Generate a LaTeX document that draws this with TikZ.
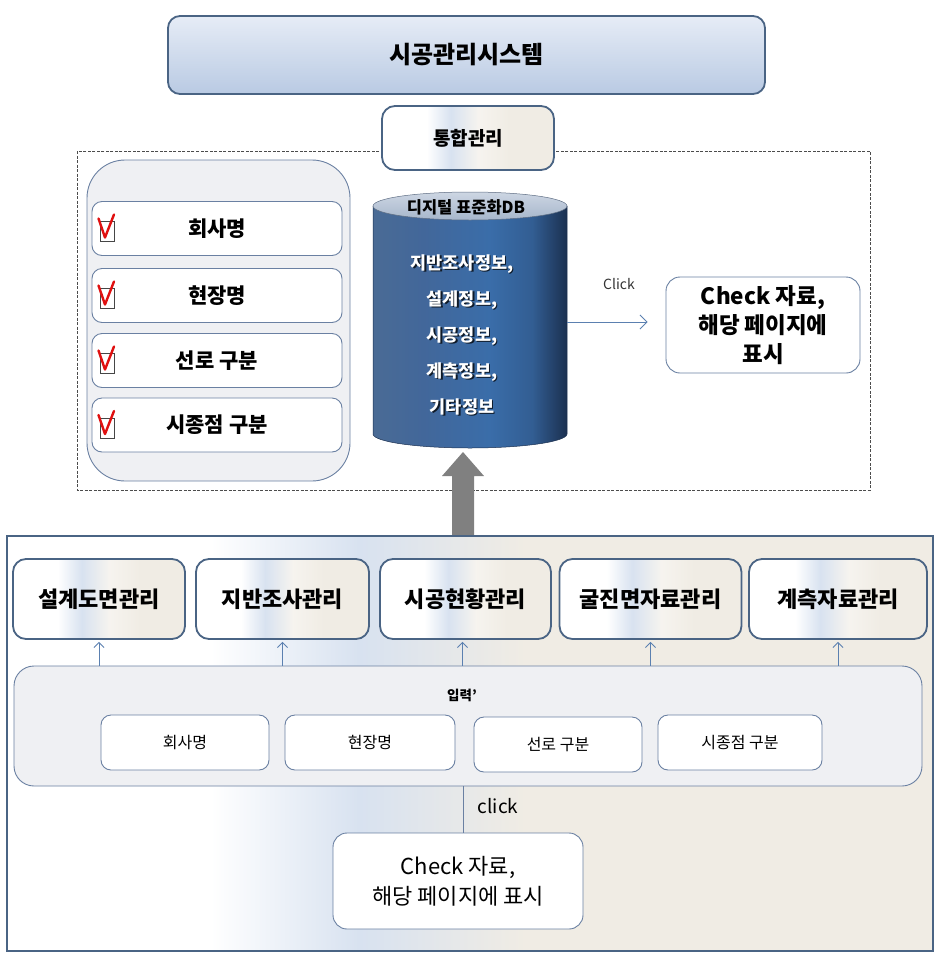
\documentclass[tikz,border=0pt]{standalone}
\usepackage{fontspec}
\setmainfont{Noto Sans CJK KR}
\usetikzlibrary{arrows.meta}
\definecolor{bdark}{HTML}{4A6484}
\definecolor{bmid}{HTML}{6A80A2}
\definecolor{arrc}{HTML}{5B80B0}
\definecolor{titletop}{HTML}{E6ECF6}
\definecolor{titlebot}{HTML}{B9CAE3}
\definecolor{paleblue}{HTML}{D8E2F0}
\definecolor{beige}{HTML}{F0ECE4}
\definecolor{panel}{HTML}{EFF0F3}
\definecolor{cylL}{HTML}{4A6B95}
\definecolor{cylLb}{HTML}{42679A}
\definecolor{cylM}{HTML}{3A6DA9}
\definecolor{cylR}{HTML}{1B3050}
\definecolor{cyltopA}{HTML}{CDD6E3}
\definecolor{cyltopB}{HTML}{A6B6CB}
\definecolor{chkred}{HTML}{E01010}
\definecolor{bigarrow}{HTML}{808080}
\newcommand\fsz[2]{\fontsize{#1pt}{#2pt}\selectfont}
\pgfdeclarehorizontalshading{cylshade}{100bp}{color(0bp)=(cylL); color(25bp)=(cylL); color(38bp)=(cylLb); color(55bp)=(cylM); color(66bp)=(cylM!75!cylR); color(75bp)=(cylR); color(100bp)=(cylR)}
\pgfdeclarehorizontalshading{bgshade}{100bp}{color(0bp)=(white); color(25bp)=(white); color(36bp)=(white); color(44bp)=(paleblue); color(53bp)=(beige); color(75bp)=(beige); color(100bp)=(beige)}
\pgfdeclarehorizontalshading{boxshade}{100bp}{color(0bp)=(white); color(25bp)=(white); color(38bp)=(white); color(45bp)=(paleblue); color(53bp)=(beige!60!white); color(62bp)=(beige); color(75bp)=(beige); color(100bp)=(beige)}
\begin{document}
\begin{tikzpicture}[x=1pt,y=-1pt,
  hbox/.style={draw=bdark, line width=1.8pt, rounded corners=13pt, shading=boxshade, inner sep=0pt, align=center, font=\bfseries\fsz{22}{26}},
  wbox/.style={draw=bmid, line width=0.9pt, rounded corners=10pt, fill=white, inner sep=0pt, align=center},
  arr/.style={draw=arrc, line width=0.9pt, -{Straight Barb[length=5pt,width=10pt]}},
  chk/.pic={
    \draw[draw=gray!55!black, line width=0.9pt, fill=white] (100,-7) rectangle (114,13);
    \draw[chkred, line width=2.4pt, line join=round, line cap=round] (98.5,-10) -- (105,9) -- (114,-14);
  }
]
\useasboundingbox (0,0) rectangle (949,967);

% title
\node[draw=bdark, line width=1.8pt, rounded corners=12pt, top color=titletop, bottom color=titlebot,
      minimum width=597pt, minimum height=78pt, font=\bfseries\fsz{24}{28}] (title) at (466.5,55) {시공관리시스템};

% dashed frame
\draw[draw=gray!60!black, line width=0.6pt, dash pattern=on 3pt off 1.5pt] (77,151) rectangle (870,490);

% integration box
\node[hbox, minimum width=172pt, minimum height=64pt, font=\bfseries\fsz{19}{22}] (tong) at (468,138) {통합관리};

% left panel
\node[draw=bmid, line width=0.9pt, fill=panel, rounded corners=38pt, minimum width=263pt, minimum height=321pt] (panel) at (218.5,320.5) {};
\node[wbox, minimum width=250pt, minimum height=54pt, font=\bfseries\fsz{21}{25}] (i1) at (217,228.5) {회사명};
\node[wbox, minimum width=250pt, minimum height=54pt, font=\bfseries\fsz{21}{25}] (i2) at (217,295.5) {현장명};
\node[wbox, minimum width=250pt, minimum height=54pt, font=\bfseries\fsz{21}{25}] (i3) at (217,360.5) {선로 구분};
\node[wbox, minimum width=250pt, minimum height=54pt, font=\bfseries\fsz{21}{25}] (i4) at (217,425) {시종점 구분};
\pic at (0,228.5) {chk};
\pic at (0,295.5) {chk};
\pic at (0,360.5) {chk};
\pic at (0,425) {chk};

% cylinder
\shade[shading=cylshade] (373,206) -- (373,434) .. controls (373,441.7) and (416.4,448) .. (470,448)
   .. controls (523.6,448) and (567,441.7) .. (567,434) -- (567,206) -- cycle;
\draw[draw=cylR, line width=0.5pt] (373,206) -- (373,434) .. controls (373,441.7) and (416.4,448) .. (470,448)
   .. controls (523.6,448) and (567,441.7) .. (567,434) -- (567,206);
\shade[top color=cyltopA, bottom color=cyltopB] (470,206) ellipse [x radius=97pt, y radius=14pt];
\draw[draw=cylR!70, line width=0.5pt] (470,206) ellipse [x radius=97pt, y radius=14pt];
\node[font=\bfseries\fsz{16.5}{19}] (dbtitle) at (466,207) {디지털 표준화DB};
\node[inner sep=0pt, minimum width=194pt, minimum height=256pt] (db) at (470,322) {};
\node[font=\bfseries\fsz{17.5}{36}, align=center, text=black, opacity=0.75] (dbshadow) at (463.6,336.1) {지반조사정보,\\설계정보,\\시공정보,\\계측정보,\\기타정보};
\node[font=\bfseries\fsz{17.5}{36}, align=center, text=white] (dbtext) at (462,334.5) {지반조사정보,\\설계정보,\\시공정보,\\계측정보,\\기타정보};

% right check box
\node[wbox, rounded corners=14pt, minimum width=194pt, minimum height=96pt, font=\bfseries\fsz{22.5}{29}] (chk1) at (763,325) {Check 자료,\\해당 페이지에\\표시};
\draw[arr, -{Straight Barb[length=7pt,width=14pt]}, shorten >=18pt] (db.east) -- (db.east -| chk1.west);
\node[font=\fsz{14}{17}, text=black!80] (clickA) at (619,284) {Click};

% big gray arrow
\fill[bigarrow] (452,537) -- (452,476) -- (442,476) -- (463,452) -- (484,476) -- (474,476) -- (474,537) -- cycle;

% bottom container
\node[draw=bdark, line width=1.8pt, shading=bgshade, minimum width=926pt, minimum height=415pt] (bottom) at (470,743.5) {};

% five boxes
\node[hbox, minimum width=172pt, minimum height=80pt] (b1) at (99,599) {설계도면관리};
\node[hbox, minimum width=173pt, minimum height=80pt] (b2) at (282.5,599) {지반조사관리};
\node[hbox, minimum width=171pt, minimum height=80pt] (b3) at (465.5,599) {시공현황관리};
\node[hbox, minimum width=182pt, minimum height=80pt] (b4) at (650.5,599) {굴진면자료관리};
\node[hbox, minimum width=178pt, minimum height=80pt] (b5) at (838,599) {계측자료관리};

% input container
\node[draw=bmid, line width=0.9pt, fill=panel, rounded corners=20pt, minimum width=908pt, minimum height=120pt] (inp) at (468,726) {};
\node[font=\bfseries\fsz{13.5}{16}] (inlabel) at (462,695) {입력’};
\node[wbox, minimum width=168pt, minimum height=55pt, font=\fsz{16}{19}] (n1) at (185,742.5) {회사명};
\node[wbox, minimum width=170pt, minimum height=55pt, font=\fsz{16}{19}] (n2) at (370,742.5) {현장명};
\node[wbox, minimum width=168pt, minimum height=55pt, font=\fsz{16}{19}] (n3) at (558,744.5) {선로 구분};
\node[wbox, minimum width=164pt, minimum height=55pt, font=\fsz{16}{19}] (n4) at (740,742.5) {시종점 구분};

% up arrows
\draw[arr, shorten >=2pt] (b1.south |- inp.north) -- (b1.south);
\draw[arr, shorten >=2pt] (b2.south |- inp.north) -- (b2.south);
\draw[arr, shorten >=2pt] ([xshift=-3pt]b3.south |- inp.north) -- ([xshift=-3pt]b3.south);
\draw[arr, shorten >=2pt] (b4.south |- inp.north) -- (b4.south);
\draw[arr, shorten >=2pt] (b5.south |- inp.north) -- (b5.south);

% bottom check box
\node[wbox, rounded corners=14pt, minimum width=250pt, minimum height=96pt, font=\fsz{22}{30}] (chk2) at (458,881) {Check 자료,\\해당 페이지에 표시};
\coordinate (cl) at (463,786);
\draw[draw=bmid, line width=0.9pt] (cl) -- (cl |- chk2.north);
\node[font=\fsz{19}{22}] (clickB) at (498,806) {click};
\end{tikzpicture}
\end{document}
